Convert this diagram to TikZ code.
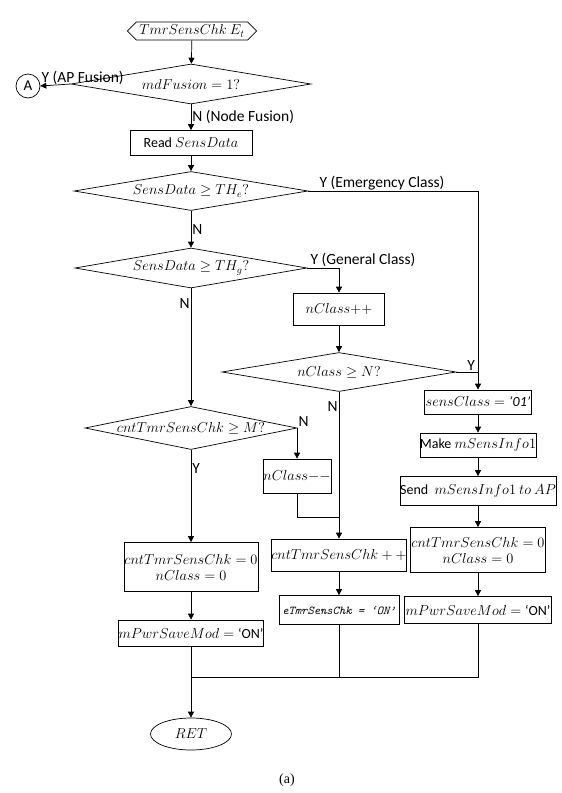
\documentclass[tikz,border=0pt]{standalone}
\usepackage{fontspec}
\setmainfont{Carlito}
\newfontfamily\capfont{Liberation Serif}
\usetikzlibrary{shapes.geometric,shapes.symbols,arrows.meta}
\tikzset{
  txt/.style={font=\fontsize{14}{16}\selectfont},
  base/.style={draw, line width=0.7pt, inner sep=0pt, txt},
  proc/.style={base, rectangle, align=center},
  dec/.style={base, diamond},
  conn/.style={line width=0.7pt},
  arr/.style={conn, -{Triangle[length=6pt,width=6pt]}},
  lbl/.style={font=\fontsize{15.5}{17}\selectfont, inner sep=1pt},
  every label/.style={txt, inner sep=0pt},
}
\begin{document}
\begin{tikzpicture}[x=1pt,y=-1pt]
\useasboundingbox (0,0) rectangle (562,793);
% nodes
\node[base, signal, signal to=west and east, minimum width=117pt, minimum height=18pt, inner xsep=3pt] (start) at (192,31) {$TmrSensChk\ E_t$};
\node[dec, minimum width=240pt, minimum height=40pt, label=center:{$mdFusion = 1?$}] (md) at (191,84) {};
\node[base, circle, minimum size=24pt, font=\fontsize{15}{17}\selectfont] (A) at (28,86) {A};
\node[proc, minimum width=122pt, minimum height=25pt] (read) at (191,143) {Read $SensData$};
\node[dec, minimum width=234pt, minimum height=39pt, label=center:{$SensData \geq TH_e?$}] (de) at (191,191) {};
\node[dec, minimum width=232pt, minimum height=40pt, label=center:{$SensData \geq TH_g?$}] (dg) at (191,268) {};
\node[proc, minimum width=91pt, minimum height=32pt] (nplus) at (339,309) {$nClass{+}{+}$};
\node[dec, minimum width=234pt, minimum height=39pt, label=center:{$nClass \geq N?$}] (dn) at (339,372) {};
\node[proc, minimum width=107pt, minimum height=24pt] (sens) at (478,402) {$sensClass = \mbox{\itshape ‘01’}$};
\node[proc, minimum width=114pt, minimum height=24pt] (make) at (478,445) {Make $mSensInfo1$};
\node[dec, minimum width=212pt, minimum height=43pt, label=center:{$cntTmrSensChk \geq M?$}] (dm) at (191,428) {};
\node[proc, minimum width=68pt, minimum height=34pt] (nminus) at (297,476) {$nClass{-}{-}$};
\node[proc, minimum width=155pt, minimum height=29pt] (send) at (478,491) {Send \ $mSensInfo1\ to\ AP$};
\node[proc, minimum width=134pt, minimum height=49pt] (lbox) at (191,567) {$cntTmrSensChk = 0$\\$nClass = 0$};
\node[proc, minimum width=130pt, minimum height=32pt] (cplus) at (339,555) {$cntTmrSensChk + {+}$};
\node[proc, minimum width=135pt, minimum height=45pt] (rbox) at (478,550) {$cntTmrSensChk = 0$\\$nClass = 0$};
\node[proc, minimum width=135pt, minimum height=26pt] (lpwr) at (191,633) {$mPwrSaveMod = \mbox{‘ON’}$};
\node[proc, minimum width=120pt, minimum height=29pt, font=\fontsize{12}{14}\selectfont\ttfamily\itshape] (etmr) at (339,610) {eTmrSensChk = ‘ON’};
\node[proc, minimum width=147pt, minimum height=27pt] (rpwr) at (478,610) {$mPwrSaveMod = \mbox{‘ON’}$};
\node[base, ellipse, minimum width=81pt, minimum height=32pt] (ret) at (191,734) {$RET$};
\node[txt, font=\capfont\fontsize{14}{16}\selectfont] (cap) at (287,780) {(a)};
\coordinate (jn) at (339,517);
\coordinate (jm) at (191,677);
% connectors
\draw[arr] (start) -- (md);
\draw[arr] (md.west) -- (A.east);
\node[lbl, anchor=south west] (lblA) at (A.east) {Y (AP Fusion)};
\draw[arr] (md.south) -- (read.north) node[lbl, midway, right] (lblN1) {N (Node Fusion)};
\draw[arr] (read) -- (de);
\draw[arr] (de.east) -| (sens.north);
\node[lbl, anchor=south west, xshift=10pt] (lblE) at (de.east) {Y (Emergency Class)};
\draw[arr] (de.south) -- (dg.north) node[lbl, midway, right] (lblN2) {N};
\draw[arr] (dg.east) -| (nplus.north);
\node[lbl, anchor=south west, xshift=2pt] (lblG) at (dg.east) {Y (General Class)};
\draw[arr] (nplus) -- (dn);
\draw[conn] (dn.east) -- (dn.east -| sens.north);
\node[lbl, anchor=south east, xshift=-2pt] (lblY1) at (dn.east -| sens.north) {Y};
\draw[arr] (dg.south) -- (dm.north) node[lbl, pos=0.13, left] (lblN3) {N};
\draw[arr] (dm.east) -| (nminus.north);
\node[lbl, anchor=south west] (lblN4) at (dm.east) {N};
\draw[arr] (dm.south) -- (lbox.north) node[lbl, pos=0.2, right] (lblY2) {Y};
\draw[arr] (lbox) -- (lpwr);
\draw[arr] (dn.south) -- (cplus.north) node[lbl, pos=0.1, left] (lblN5) {N};
\draw[conn] (nminus.south) |- (jn);
\draw[arr] (cplus) -- (etmr);
\draw[arr] (sens) -- (make);
\draw[arr] (make) -- (send);
\draw[arr] (send) -- (rbox);
\draw[arr] (rbox) -- (rpwr);
\draw[arr] (lpwr) -- (ret);
\draw[conn] (etmr.south) |- (jm);
\draw[conn] (rpwr.south) |- (jm);
\end{tikzpicture}
\end{document}
